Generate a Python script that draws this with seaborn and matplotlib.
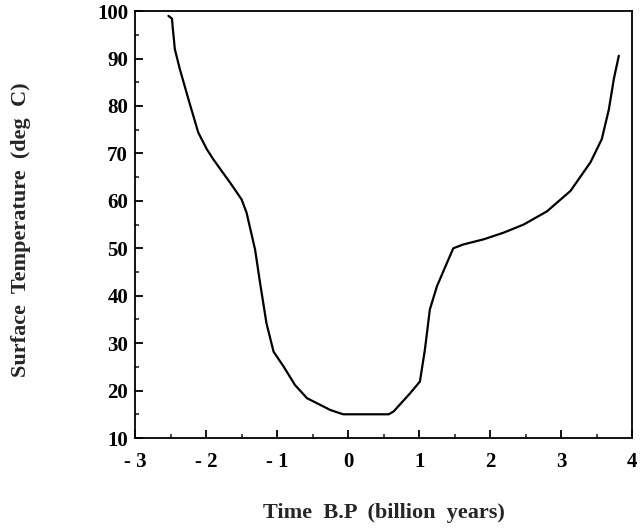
import pandas as pd
import seaborn as sns
import matplotlib.pyplot as plt
from matplotlib.ticker import MultipleLocator

# values
time_bp = [-2.53, -2.48, -2.47, -2.44, -2.37, -2.25, -2.11, -1.99, -1.90, -1.80,
           -1.66, -1.50, -1.43, -1.31, -1.24, -1.15, -1.05, -0.91, -0.75, -0.58,
           -0.25, -0.07, 0.57, 0.64, 0.87, 1.01, 1.08, 1.15, 1.25, 1.39,
           1.48, 1.62, 1.91, 2.19, 2.47, 2.80, 3.13, 3.41, 3.57, 3.67,
           3.74, 3.81]
temperature = [99.0, 98.4, 96.6, 92.0, 87.8, 81.5, 74.4, 70.9, 68.8, 66.7,
               63.8, 60.3, 57.5, 49.7, 42.7, 34.2, 28.2, 25.1, 21.2, 18.4,
               15.9, 15.0, 15.0, 15.6, 19.4, 21.9, 28.6, 37.1, 42.0, 46.9,
               50.0, 50.8, 51.9, 53.3, 55.0, 57.8, 62.1, 68.1, 73.0, 79.3,
               85.7, 90.6]

x_ticks = [-3, -2, -1, 0, 1, 2, 3, 4]
x_tick_labels = ["- 3", "- 2", "- 1", "0", "1", "2", "3", "4"]
y_ticks = [10, 20, 30, 40, 50, 60, 70, 80, 90, 100]

df = pd.DataFrame({"time": time_bp, "temp": temperature})

sns.set_style("ticks")
plt.rcParams["font.family"] = ["Liberation Serif", "DejaVu Serif"]

fig = plt.figure(figsize=(6.4, 5.29), dpi=100)
ax = fig.add_axes([0.211, 0.172, 0.777, 0.807])

sns.lineplot(data=df, x="time", y="temp", sort=False, color="black",
             linewidth=1.6, ax=ax)

ax.set_xlim(-3, 4)
ax.set_ylim(10, 100)
ax.set_xticks(x_ticks)
ax.set_xticklabels(x_tick_labels)
ax.set_yticks(y_ticks)
ax.xaxis.set_minor_locator(MultipleLocator(0.5))
ax.yaxis.set_minor_locator(MultipleLocator(5))
ax.tick_params(which="major", direction="in", length=6, width=1.3,
               labelsize=15, colors="black")
ax.tick_params(which="minor", direction="in", length=3, width=1.2)
ax.tick_params(axis="x", pad=10)
ax.tick_params(axis="y", pad=5)
for lab in ax.get_xticklabels() + ax.get_yticklabels():
    lab.set_fontweight("bold")

for side in ["left", "right", "top", "bottom"]:
    ax.spines[side].set_visible(True)
    ax.spines[side].set_linewidth(1.3)
    ax.spines[side].set_color("black")

ax.set_xlabel("Time  B.P  (billion  years)", fontsize=16, fontweight="bold")
ax.set_ylabel("Surface  Temperature  (deg  C)", fontsize=16, fontweight="bold")
ax.xaxis.set_label_coords(0.5, -0.176)
ax.yaxis.set_label_coords(-0.229, 0.489)
ax.xaxis.label.set_va("center")
ax.yaxis.label.set_va("center")

plt.savefig("out.png", dpi=100)
